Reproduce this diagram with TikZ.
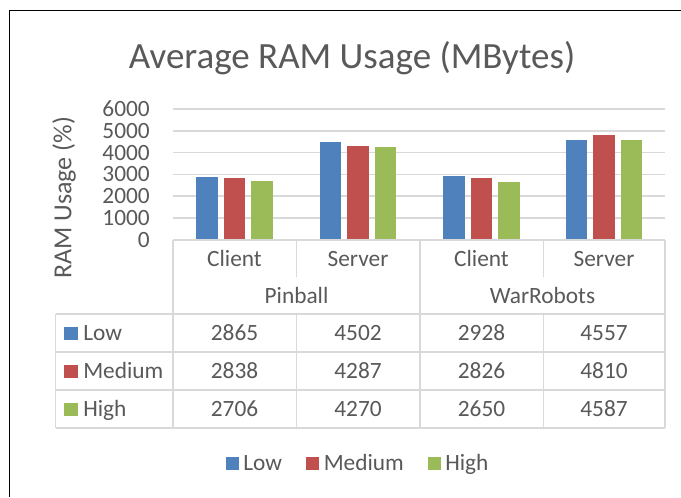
\documentclass[tikz,border=0pt]{standalone}
\usepackage{fontspec}
\setmainfont{Carlito}
\definecolor{txt}{HTML}{595959}
\definecolor{gridc}{HTML}{D9D9D9}
\definecolor{cLow}{HTML}{4F81BD}
\definecolor{cMed}{HTML}{C0504D}
\definecolor{cHigh}{HTML}{9BBB59}
\begin{document}
\begin{tikzpicture}[x=0.75pt,y=-0.75pt,
  lbl/.style={text=txt,font=\fontsize{17.5}{20}\selectfont,inner sep=0pt,text height=11.3pt,text depth=0pt},
  ttl/.style={text=txt,font=\fontsize{27.75}{32}\selectfont,inner sep=0pt,text height=17.9pt,text depth=0pt},
  axl/.style={text=txt,font=\fontsize{19.5}{23}\selectfont,inner sep=0pt,text height=12.6pt,text depth=0pt,rotate=90},
  gridln/.style={draw=gridc,line width=1.1pt},
  tabln/.style={draw=gridc,line width=1.1pt},
  frame/.style={draw=black,line width=1.2pt}]
\useasboundingbox (0,0) rectangle (681,497);
\fill[white] (0,0) rectangle (681,497);
\draw[frame] (9.5,497) -- (9.5,10.5) -- (681,10.5);
% title
\node[ttl] (title) at (352,57) {Average RAM Usage (MBytes)};
% y axis label
\node[axl] (ylab) at (63,198) {RAM Usage (\%)};
% gridlines and ticks
\foreach \v/\n in {0/0,1/1000,2/2000,3/3000,4/4000,5/5000,6/6000}{
  \pgfmathsetmacro{\yy}{239.7-\v*21.78}
  \ifnum\v>0 \draw[gridln] (173,\yy) -- (665,\yy); \fi
  \node[lbl,anchor=east] (tick\v) at (150,\yy) {\n};
}
% bars
\foreach \cx/\a/\b/\c in {234.5/2865/2838/2706, 358/4502/4287/4270, 481.5/2928/2826/2650, 604/4557/4810/4587}{
  \fill[cLow]  (\cx-27.5-10.75,239.7) rectangle (\cx-27.5+10.75,239.7-\a*0.02178);
  \fill[cMed]  (\cx-10.75,239.7) rectangle (\cx+10.75,239.7-\b*0.02178);
  \fill[cHigh] (\cx+27.5-10.75,239.7) rectangle (\cx+27.5+10.75,239.7-\c*0.02178);
}
% table lines
\draw[tabln] (173,240) -- (665,240);
\foreach \yy in {314,352,390,428} \draw[tabln] (55.5,\yy) -- (665,\yy);
\draw[tabln] (55.5,314) -- (55.5,428);
\draw[tabln] (173,240) -- (173,428);
\draw[tabln] (420,240) -- (420,428);
\draw[tabln] (665,240) -- (665,428);
\draw[tabln] (296.5,240) -- (296.5,277);
\draw[tabln] (296.5,314) -- (296.5,428);
\draw[tabln] (543.5,240) -- (543.5,277);
\draw[tabln] (543.5,314) -- (543.5,428);
% header
\node[lbl] (h1) at (234.5,258.5) {Client};
\node[lbl] (h2) at (358,258.5) {Server};
\node[lbl] (h3) at (481.5,258.5) {Client};
\node[lbl] (h4) at (604,258.5) {Server};
\node[lbl] (g1) at (296.5,295.5) {Pinball};
\node[lbl] (g2) at (542.5,295.5) {WarRobots};
% row labels
\foreach \yy/\col/\nm/\k in {333/cLow/Low/1, 371/cMed/Medium/2, 409/cHigh/High/3}{
  \fill[\col] (64.3,\yy-6.5) rectangle (77.7,\yy+6.5);
  \node[lbl,anchor=west] (r\k) at (83,\yy) {\nm};
}
% values
\foreach \yy/\a/\b/\c/\d/\k in {333/2865/4502/2928/4557/1, 371/2838/4287/2826/4810/2, 409/2706/4270/2650/4587/3}{
  \node[lbl] (v\k a) at (234.5,\yy) {\a};
  \node[lbl] (v\k b) at (358,\yy) {\b};
  \node[lbl] (v\k c) at (481.5,\yy) {\c};
  \node[lbl] (v\k d) at (604,\yy) {\d};
}
% legend
\fill[cLow]  (226,456.5) rectangle (239,469.5);
\node[lbl,anchor=west] (legLow) at (243,463) {Low};
\fill[cMed]  (306,456.5) rectangle (319,469.5);
\node[lbl,anchor=west] (legMed) at (323.5,463) {Medium};
\fill[cHigh] (428,456.5) rectangle (441,469.5);
\node[lbl,anchor=west] (legHigh) at (445,463) {High};
\end{tikzpicture}
\end{document}
